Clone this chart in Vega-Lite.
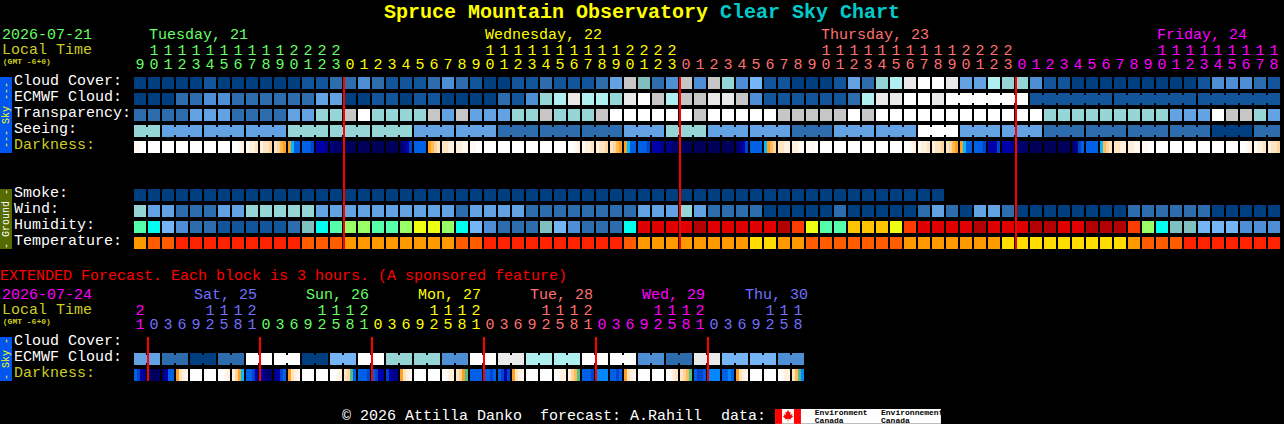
{"$schema":"https://vega.github.io/schema/vega-lite/v6.json","width":1284,"height":424,"padding":0,"autosize":{"type":"none"},"background":"#000000","config":{"view":{"stroke":null}},
"datasets":{
"cells":[
{"h":0,"r":0,"k":"0"},{"h":1,"r":0,"k":"0"},{"h":2,"r":0,"k":"0"},{"h":3,"r":0,"k":"0"},{"h":4,"r":0,"k":"0"},{"h":5,"r":0,"k":"1"},{"h":6,"r":0,"k":"0"},{"h":7,"r":0,"k":"0"},{"h":8,"r":0,"k":"0"},{"h":9,"r":0,"k":"0"},{"h":10,"r":0,"k":"0"},{"h":11,"r":0,"k":"0"},{"h":12,"r":0,"k":"1"},{"h":13,"r":0,"k":"1"},{"h":14,"r":0,"k":"2"},{"h":15,"r":0,"k":"2"},{"h":16,"r":0,"k":"3"},{"h":17,"r":0,"k":"2"},{"h":18,"r":0,"k":"1"},{"h":19,"r":0,"k":"1"},{"h":20,"r":0,"k":"1"},{"h":21,"r":0,"k":"2"},{"h":22,"r":0,"k":"3"},{"h":23,"r":0,"k":"2"},{"h":24,"r":0,"k":"1"},{"h":25,"r":0,"k":"0"},{"h":26,"r":0,"k":"0"},{"h":27,"r":0,"k":"1"},{"h":28,"r":0,"k":"1"},{"h":29,"r":0,"k":"2"},{"h":30,"r":0,"k":"1"},{"h":31,"r":0,"k":"1"},{"h":32,"r":0,"k":"1"},{"h":33,"r":0,"k":"2"},{"h":34,"r":0,"k":"4"},{"h":35,"r":0,"k":"8"},{"h":36,"r":0,"k":"t"},{"h":37,"r":0,"k":"2"},{"h":38,"r":0,"k":"3"},{"h":39,"r":0,"k":"8"},{"h":40,"r":0,"k":"3"},{"h":41,"r":0,"k":"8"},{"h":42,"r":0,"k":"6"},{"h":43,"r":0,"k":"3"},{"h":44,"r":0,"k":"5"},{"h":45,"r":0,"k":"1"},{"h":46,"r":0,"k":"1"},{"h":47,"r":0,"k":"0"},{"h":48,"r":0,"k":"0"},{"h":49,"r":0,"k":"0"},{"h":50,"r":0,"k":"1"},{"h":51,"r":0,"k":"4"},{"h":52,"r":0,"k":"2"},{"h":53,"r":0,"k":"6"},{"h":54,"r":0,"k":"7"},{"h":55,"r":0,"k":"9"},{"h":56,"r":0,"k":"W"},{"h":57,"r":0,"k":"W"},{"h":58,"r":0,"k":"9"},{"h":59,"r":0,"k":"4"},{"h":60,"r":0,"k":"4"},{"h":61,"r":0,"k":"7"},{"h":62,"r":0,"k":"6"},{"h":63,"r":0,"k":"6"},{"h":64,"r":0,"k":"3"},{"h":65,"r":0,"k":"1"},{"h":66,"r":0,"k":"1"},{"h":67,"r":0,"k":"0"},{"h":68,"r":0,"k":"0"},{"h":69,"r":0,"k":"0"},{"h":70,"r":0,"k":"0"},{"h":71,"r":0,"k":"0"},{"h":72,"r":0,"k":"0"},{"h":73,"r":0,"k":"0"},{"h":74,"r":0,"k":"0"},{"h":75,"r":0,"k":"0"},{"h":76,"r":0,"k":"1"},{"h":77,"r":0,"k":"3"},{"h":78,"r":0,"k":"3"},{"h":79,"r":0,"k":"3"},{"h":80,"r":0,"k":"2"},{"h":81,"r":0,"k":"1"},
{"h":0,"r":1,"k":"0"},{"h":1,"r":1,"k":"0"},{"h":2,"r":1,"k":"0"},{"h":3,"r":1,"k":"2"},{"h":4,"r":1,"k":"2"},{"h":5,"r":1,"k":"3"},{"h":6,"r":1,"k":"3"},{"h":7,"r":1,"k":"2"},{"h":8,"r":1,"k":"2"},{"h":9,"r":1,"k":"2"},{"h":10,"r":1,"k":"2"},{"h":11,"r":1,"k":"2"},{"h":12,"r":1,"k":"2"},{"h":13,"r":1,"k":"4"},{"h":14,"r":1,"k":"4"},{"h":15,"r":1,"k":"0"},{"h":16,"r":1,"k":"0"},{"h":17,"r":1,"k":"1"},{"h":18,"r":1,"k":"1"},{"h":19,"r":1,"k":"0"},{"h":20,"r":1,"k":"1"},{"h":21,"r":1,"k":"1"},{"h":22,"r":1,"k":"0"},{"h":23,"r":1,"k":"0"},{"h":24,"r":1,"k":"0"},{"h":25,"r":1,"k":"0"},{"h":26,"r":1,"k":"2"},{"h":27,"r":1,"k":"1"},{"h":28,"r":1,"k":"3"},{"h":29,"r":1,"k":"6"},{"h":30,"r":1,"k":"7"},{"h":31,"r":1,"k":"9"},{"h":32,"r":1,"k":"7"},{"h":33,"r":1,"k":"7"},{"h":34,"r":1,"k":"6"},{"h":35,"r":1,"k":"9"},{"h":36,"r":1,"k":"W"},{"h":37,"r":1,"k":"8"},{"h":38,"r":1,"k":"7"},{"h":39,"r":1,"k":"8"},{"h":40,"r":1,"k":"8"},{"h":41,"r":1,"k":"9"},{"h":42,"r":1,"k":"9"},{"h":43,"r":1,"k":"8"},{"h":44,"r":1,"k":"3"},{"h":45,"r":1,"k":"1"},{"h":46,"r":1,"k":"1"},{"h":47,"r":1,"k":"1"},{"h":48,"r":1,"k":"1"},{"h":49,"r":1,"k":"1"},{"h":50,"r":1,"k":"1"},{"h":51,"r":1,"k":"2"},{"h":52,"r":1,"k":"7"},{"h":53,"r":1,"k":"9"},{"h":54,"r":1,"k":"9"},{"h":55,"r":1,"k":"W"},{"h":56,"r":1,"k":"W"},{"h":57,"r":1,"k":"9"},{"h":58,"r":1,"k":"W"},{"h":59,"r":1,"k":"W"},{"h":60,"r":1,"k":"W"},{"h":61,"r":1,"k":"W"},{"h":62,"r":1,"k":"W"},{"h":63,"r":1,"k":"W"},{"h":64,"r":1,"k":"1"},{"h":65,"r":1,"k":"1"},{"h":66,"r":1,"k":"1"},{"h":67,"r":1,"k":"1"},{"h":68,"r":1,"k":"1"},{"h":69,"r":1,"k":"1"},{"h":70,"r":1,"k":"1"},{"h":71,"r":1,"k":"1"},{"h":72,"r":1,"k":"1"},{"h":73,"r":1,"k":"1"},{"h":74,"r":1,"k":"1"},{"h":75,"r":1,"k":"1"},{"h":76,"r":1,"k":"1"},{"h":77,"r":1,"k":"1"},{"h":78,"r":1,"k":"1"},{"h":79,"r":1,"k":"1"},{"h":80,"r":1,"k":"1"},{"h":81,"r":1,"k":"1"},
{"h":0,"r":2,"k":"2"},{"h":1,"r":2,"k":"2"},{"h":2,"r":2,"k":"2"},{"h":3,"r":2,"k":"2"},{"h":4,"r":2,"k":"4"},{"h":5,"r":2,"k":"4"},{"h":6,"r":2,"k":"4"},{"h":7,"r":2,"k":"2"},{"h":8,"r":2,"k":"2"},{"h":9,"r":2,"k":"2"},{"h":10,"r":2,"k":"2"},{"h":11,"r":2,"k":"4"},{"h":12,"r":2,"k":"4"},{"h":13,"r":2,"k":"6"},{"h":14,"r":2,"k":"6"},{"h":15,"r":2,"k":"8"},{"h":16,"r":2,"k":"W"},{"h":17,"r":2,"k":"6"},{"h":18,"r":2,"k":"6"},{"h":19,"r":2,"k":"6"},{"h":20,"r":2,"k":"6"},{"h":21,"r":2,"k":"8"},{"h":22,"r":2,"k":"4"},{"h":23,"r":2,"k":"8"},{"h":24,"r":2,"k":"4"},{"h":25,"r":2,"k":"4"},{"h":26,"r":2,"k":"4"},{"h":27,"r":2,"k":"6"},{"h":28,"r":2,"k":"6"},{"h":29,"r":2,"k":"8"},{"h":30,"r":2,"k":"6"},{"h":31,"r":2,"k":"6"},{"h":32,"r":2,"k":"6"},{"h":33,"r":2,"k":"8"},{"h":34,"r":2,"k":"W"},{"h":35,"r":2,"k":"W"},{"h":36,"r":2,"k":"W"},{"h":37,"r":2,"k":"W"},{"h":38,"r":2,"k":"W"},{"h":39,"r":2,"k":"W"},{"h":40,"r":2,"k":"8"},{"h":41,"r":2,"k":"W"},{"h":42,"r":2,"k":"W"},{"h":43,"r":2,"k":"W"},{"h":44,"r":2,"k":"W"},{"h":45,"r":2,"k":"W"},{"h":46,"r":2,"k":"8"},{"h":47,"r":2,"k":"8"},{"h":48,"r":2,"k":"8"},{"h":49,"r":2,"k":"8"},{"h":50,"r":2,"k":"8"},{"h":51,"r":2,"k":"W"},{"h":52,"r":2,"k":"8"},{"h":53,"r":2,"k":"W"},{"h":54,"r":2,"k":"W"},{"h":55,"r":2,"k":"W"},{"h":56,"r":2,"k":"W"},{"h":57,"r":2,"k":"W"},{"h":58,"r":2,"k":"W"},{"h":59,"r":2,"k":"W"},{"h":60,"r":2,"k":"W"},{"h":61,"r":2,"k":"W"},{"h":62,"r":2,"k":"W"},{"h":63,"r":2,"k":"W"},{"h":64,"r":2,"k":"W"},{"h":65,"r":2,"k":"6"},{"h":66,"r":2,"k":"6"},{"h":67,"r":2,"k":"6"},{"h":68,"r":2,"k":"6"},{"h":69,"r":2,"k":"6"},{"h":70,"r":2,"k":"6"},{"h":71,"r":2,"k":"6"},{"h":72,"r":2,"k":"6"},{"h":73,"r":2,"k":"6"},{"h":74,"r":2,"k":"4"},{"h":75,"r":2,"k":"4"},{"h":76,"r":2,"k":"4"},{"h":77,"r":2,"k":"W"},{"h":78,"r":2,"k":"8"},{"h":79,"r":2,"k":"8"},{"h":80,"r":2,"k":"6"},{"h":81,"r":2,"k":"4"},
{"h":0,"r":3,"k":"6"},{"h":1,"r":3,"k":"6"},{"h":2,"r":3,"k":"4"},{"h":3,"r":3,"k":"4"},{"h":4,"r":3,"k":"4"},{"h":5,"r":3,"k":"4"},{"h":6,"r":3,"k":"4"},{"h":7,"r":3,"k":"4"},{"h":8,"r":3,"k":"4"},{"h":9,"r":3,"k":"4"},{"h":10,"r":3,"k":"4"},{"h":11,"r":3,"k":"6"},{"h":12,"r":3,"k":"6"},{"h":13,"r":3,"k":"6"},{"h":14,"r":3,"k":"6"},{"h":15,"r":3,"k":"6"},{"h":16,"r":3,"k":"6"},{"h":17,"r":3,"k":"6"},{"h":18,"r":3,"k":"6"},{"h":19,"r":3,"k":"6"},{"h":20,"r":3,"k":"4"},{"h":21,"r":3,"k":"4"},{"h":22,"r":3,"k":"4"},{"h":23,"r":3,"k":"4"},{"h":24,"r":3,"k":"4"},{"h":25,"r":3,"k":"4"},{"h":26,"r":3,"k":"2"},{"h":27,"r":3,"k":"2"},{"h":28,"r":3,"k":"2"},{"h":29,"r":3,"k":"2"},{"h":30,"r":3,"k":"2"},{"h":31,"r":3,"k":"2"},{"h":32,"r":3,"k":"2"},{"h":33,"r":3,"k":"2"},{"h":34,"r":3,"k":"2"},{"h":35,"r":3,"k":"4"},{"h":36,"r":3,"k":"4"},{"h":37,"r":3,"k":"4"},{"h":38,"r":3,"k":"6"},{"h":39,"r":3,"k":"6"},{"h":40,"r":3,"k":"6"},{"h":41,"r":3,"k":"4"},{"h":42,"r":3,"k":"4"},{"h":43,"r":3,"k":"4"},{"h":44,"r":3,"k":"4"},{"h":45,"r":3,"k":"4"},{"h":46,"r":3,"k":"4"},{"h":47,"r":3,"k":"2"},{"h":48,"r":3,"k":"2"},{"h":49,"r":3,"k":"2"},{"h":50,"r":3,"k":"4"},{"h":51,"r":3,"k":"4"},{"h":52,"r":3,"k":"4"},{"h":53,"r":3,"k":"4"},{"h":54,"r":3,"k":"4"},{"h":55,"r":3,"k":"4"},{"h":56,"r":3,"k":"W"},{"h":57,"r":3,"k":"W"},{"h":58,"r":3,"k":"W"},{"h":59,"r":3,"k":"4"},{"h":60,"r":3,"k":"4"},{"h":61,"r":3,"k":"4"},{"h":62,"r":3,"k":"4"},{"h":63,"r":3,"k":"4"},{"h":64,"r":3,"k":"4"},{"h":65,"r":3,"k":"2"},{"h":66,"r":3,"k":"2"},{"h":67,"r":3,"k":"2"},{"h":68,"r":3,"k":"2"},{"h":69,"r":3,"k":"2"},{"h":70,"r":3,"k":"2"},{"h":71,"r":3,"k":"2"},{"h":72,"r":3,"k":"2"},{"h":73,"r":3,"k":"2"},{"h":74,"r":3,"k":"2"},{"h":75,"r":3,"k":"2"},{"h":76,"r":3,"k":"2"},{"h":77,"r":3,"k":"0"},{"h":78,"r":3,"k":"0"},{"h":79,"r":3,"k":"0"},{"h":80,"r":3,"k":"2"},{"h":81,"r":3,"k":"2"},
{"h":1,"r":4,"k":"W"},{"h":2,"r":4,"k":"W"},{"h":3,"r":4,"k":"W"},{"h":4,"r":4,"k":"W"},{"h":5,"r":4,"k":"W"},{"h":6,"r":4,"k":"W"},{"h":15,"r":4,"k":"g"},{"h":16,"r":4,"k":"g"},{"h":17,"r":4,"k":"g"},{"h":18,"r":4,"k":"g"},{"h":20,"r":4,"k":"a"},{"h":25,"r":4,"k":"W"},{"h":26,"r":4,"k":"W"},{"h":27,"r":4,"k":"W"},{"h":28,"r":4,"k":"W"},{"h":29,"r":4,"k":"W"},{"h":30,"r":4,"k":"W"},{"h":39,"r":4,"k":"g"},{"h":40,"r":4,"k":"g"},{"h":41,"r":4,"k":"g"},{"h":42,"r":4,"k":"g"},{"h":44,"r":4,"k":"a"},{"h":49,"r":4,"k":"W"},{"h":50,"r":4,"k":"W"},{"h":51,"r":4,"k":"W"},{"h":52,"r":4,"k":"W"},{"h":53,"r":4,"k":"W"},{"h":54,"r":4,"k":"W"},{"h":64,"r":4,"k":"g"},{"h":65,"r":4,"k":"g"},{"h":66,"r":4,"k":"g"},{"h":68,"r":4,"k":"a"},{"h":73,"r":4,"k":"W"},{"h":74,"r":4,"k":"W"},{"h":75,"r":4,"k":"W"},{"h":76,"r":4,"k":"W"},{"h":77,"r":4,"k":"W"},{"h":78,"r":4,"k":"W"},
{"h":0,"r":7,"k":"0"},{"h":1,"r":7,"k":"0"},{"h":2,"r":7,"k":"0"},{"h":3,"r":7,"k":"0"},{"h":4,"r":7,"k":"0"},{"h":5,"r":7,"k":"0"},{"h":6,"r":7,"k":"0"},{"h":7,"r":7,"k":"0"},{"h":8,"r":7,"k":"0"},{"h":9,"r":7,"k":"0"},{"h":10,"r":7,"k":"0"},{"h":11,"r":7,"k":"0"},{"h":12,"r":7,"k":"0"},{"h":13,"r":7,"k":"0"},{"h":14,"r":7,"k":"0"},{"h":15,"r":7,"k":"0"},{"h":16,"r":7,"k":"0"},{"h":17,"r":7,"k":"0"},{"h":18,"r":7,"k":"0"},{"h":19,"r":7,"k":"0"},{"h":20,"r":7,"k":"0"},{"h":21,"r":7,"k":"0"},{"h":22,"r":7,"k":"0"},{"h":23,"r":7,"k":"0"},{"h":24,"r":7,"k":"0"},{"h":25,"r":7,"k":"0"},{"h":26,"r":7,"k":"0"},{"h":27,"r":7,"k":"0"},{"h":28,"r":7,"k":"0"},{"h":29,"r":7,"k":"0"},{"h":30,"r":7,"k":"0"},{"h":31,"r":7,"k":"0"},{"h":32,"r":7,"k":"0"},{"h":33,"r":7,"k":"0"},{"h":34,"r":7,"k":"0"},{"h":35,"r":7,"k":"0"},{"h":36,"r":7,"k":"0"},{"h":37,"r":7,"k":"0"},{"h":38,"r":7,"k":"0"},{"h":39,"r":7,"k":"0"},{"h":40,"r":7,"k":"0"},{"h":41,"r":7,"k":"0"},{"h":42,"r":7,"k":"0"},{"h":43,"r":7,"k":"0"},{"h":44,"r":7,"k":"0"},{"h":45,"r":7,"k":"0"},{"h":46,"r":7,"k":"0"},{"h":47,"r":7,"k":"0"},{"h":48,"r":7,"k":"0"},{"h":49,"r":7,"k":"0"},{"h":50,"r":7,"k":"0"},{"h":51,"r":7,"k":"0"},{"h":52,"r":7,"k":"0"},{"h":53,"r":7,"k":"0"},{"h":54,"r":7,"k":"0"},{"h":55,"r":7,"k":"0"},{"h":56,"r":7,"k":"0"},{"h":57,"r":7,"k":"0"},
{"h":0,"r":8,"k":"6"},{"h":1,"r":8,"k":"4"},{"h":2,"r":8,"k":"4"},{"h":3,"r":8,"k":"2"},{"h":4,"r":8,"k":"2"},{"h":5,"r":8,"k":"2"},{"h":6,"r":8,"k":"4"},{"h":7,"r":8,"k":"4"},{"h":8,"r":8,"k":"6"},{"h":9,"r":8,"k":"6"},{"h":10,"r":8,"k":"6"},{"h":11,"r":8,"k":"6"},{"h":12,"r":8,"k":"6"},{"h":13,"r":8,"k":"4"},{"h":14,"r":8,"k":"4"},{"h":15,"r":8,"k":"4"},{"h":16,"r":8,"k":"4"},{"h":17,"r":8,"k":"4"},{"h":18,"r":8,"k":"4"},{"h":19,"r":8,"k":"4"},{"h":20,"r":8,"k":"4"},{"h":21,"r":8,"k":"4"},{"h":22,"r":8,"k":"4"},{"h":23,"r":8,"k":"2"},{"h":24,"r":8,"k":"4"},{"h":25,"r":8,"k":"4"},{"h":26,"r":8,"k":"4"},{"h":27,"r":8,"k":"4"},{"h":28,"r":8,"k":"2"},{"h":29,"r":8,"k":"2"},{"h":30,"r":8,"k":"2"},{"h":31,"r":8,"k":"2"},{"h":32,"r":8,"k":"2"},{"h":33,"r":8,"k":"2"},{"h":34,"r":8,"k":"2"},{"h":35,"r":8,"k":"2"},{"h":36,"r":8,"k":"4"},{"h":37,"r":8,"k":"4"},{"h":38,"r":8,"k":"4"},{"h":39,"r":8,"k":"6"},{"h":40,"r":8,"k":"4"},{"h":41,"r":8,"k":"2"},{"h":42,"r":8,"k":"2"},{"h":43,"r":8,"k":"2"},{"h":44,"r":8,"k":"2"},{"h":45,"r":8,"k":"0"},{"h":46,"r":8,"k":"0"},{"h":47,"r":8,"k":"0"},{"h":48,"r":8,"k":"0"},{"h":49,"r":8,"k":"0"},{"h":50,"r":8,"k":"2"},{"h":51,"r":8,"k":"0"},{"h":52,"r":8,"k":"0"},{"h":53,"r":8,"k":"0"},{"h":54,"r":8,"k":"0"},{"h":55,"r":8,"k":"0"},{"h":56,"r":8,"k":"2"},{"h":57,"r":8,"k":"4"},{"h":58,"r":8,"k":"2"},{"h":59,"r":8,"k":"0"},{"h":60,"r":8,"k":"4"},{"h":61,"r":8,"k":"4"},{"h":62,"r":8,"k":"2"},{"h":63,"r":8,"k":"0"},{"h":64,"r":8,"k":"0"},{"h":65,"r":8,"k":"0"},{"h":66,"r":8,"k":"0"},{"h":67,"r":8,"k":"0"},{"h":68,"r":8,"k":"0"},{"h":69,"r":8,"k":"0"},{"h":70,"r":8,"k":"0"},{"h":71,"r":8,"k":"2"},{"h":72,"r":8,"k":"2"},{"h":73,"r":8,"k":"2"},{"h":74,"r":8,"k":"2"},{"h":75,"r":8,"k":"2"},{"h":76,"r":8,"k":"2"},{"h":77,"r":8,"k":"0"},{"h":78,"r":8,"k":"0"},{"h":79,"r":8,"k":"0"},{"h":80,"r":8,"k":"0"},{"h":81,"r":8,"k":"0"},
{"h":0,"r":9,"k":"m"},{"h":1,"r":9,"k":"c"},{"h":2,"r":9,"k":"5"},{"h":3,"r":9,"k":"3"},{"h":4,"r":9,"k":"2"},{"h":5,"r":9,"k":"2"},{"h":6,"r":9,"k":"1"},{"h":7,"r":9,"k":"1"},{"h":8,"r":9,"k":"1"},{"h":9,"r":9,"k":"1"},{"h":10,"r":9,"k":"1"},{"h":11,"r":9,"k":"2"},{"h":12,"r":9,"k":"t"},{"h":13,"r":9,"k":"c"},{"h":14,"r":9,"k":"m"},{"h":15,"r":9,"k":"l"},{"h":16,"r":9,"k":"l"},{"h":17,"r":9,"k":"m"},{"h":18,"r":9,"k":"m"},{"h":19,"r":9,"k":"l"},{"h":20,"r":9,"k":"y"},{"h":21,"r":9,"k":"y"},{"h":22,"r":9,"k":"l"},{"h":23,"r":9,"k":"c"},{"h":24,"r":9,"k":"5"},{"h":25,"r":9,"k":"3"},{"h":26,"r":9,"k":"2"},{"h":27,"r":9,"k":"2"},{"h":28,"r":9,"k":"2"},{"h":29,"r":9,"k":"t"},{"h":30,"r":9,"k":"5"},{"h":31,"r":9,"k":"3"},{"h":32,"r":9,"k":"2"},{"h":33,"r":9,"k":"2"},{"h":34,"r":9,"k":"2"},{"h":35,"r":9,"k":"c"},{"h":36,"r":9,"k":"R"},{"h":37,"r":9,"k":"R"},{"h":38,"r":9,"k":"R"},{"h":39,"r":9,"k":"R"},{"h":40,"r":9,"k":"D"},{"h":41,"r":9,"k":"R"},{"h":42,"r":9,"k":"R"},{"h":43,"r":9,"k":"R"},{"h":44,"r":9,"k":"R"},{"h":45,"r":9,"k":"R"},{"h":46,"r":9,"k":"D"},{"h":47,"r":9,"k":"O"},{"h":48,"r":9,"k":"y"},{"h":49,"r":9,"k":"m"},{"h":50,"r":9,"k":"m"},{"h":51,"r":9,"k":"o"},{"h":52,"r":9,"k":"o"},{"h":53,"r":9,"k":"o"},{"h":54,"r":9,"k":"y"},{"h":55,"r":9,"k":"O"},{"h":56,"r":9,"k":"R"},{"h":57,"r":9,"k":"R"},{"h":58,"r":9,"k":"R"},{"h":59,"r":9,"k":"R"},{"h":60,"r":9,"k":"D"},{"h":61,"r":9,"k":"R"},{"h":62,"r":9,"k":"R"},{"h":63,"r":9,"k":"R"},{"h":64,"r":9,"k":"D"},{"h":65,"r":9,"k":"D"},{"h":66,"r":9,"k":"R"},{"h":67,"r":9,"k":"R"},{"h":68,"r":9,"k":"D"},{"h":69,"r":9,"k":"D"},{"h":70,"r":9,"k":"D"},{"h":71,"r":9,"k":"O"},{"h":72,"r":9,"k":"l"},{"h":73,"r":9,"k":"c"},{"h":74,"r":9,"k":"t"},{"h":75,"r":9,"k":"t"},{"h":76,"r":9,"k":"5"},{"h":77,"r":9,"k":"5"},{"h":78,"r":9,"k":"5"},{"h":79,"r":9,"k":"3"},{"h":80,"r":9,"k":"3"},{"h":81,"r":9,"k":"3"},
{"h":0,"r":10,"k":"A"},{"h":1,"r":10,"k":"B"},{"h":2,"r":10,"k":"B"},{"h":3,"r":10,"k":"C"},{"h":4,"r":10,"k":"C"},{"h":5,"r":10,"k":"C"},{"h":6,"r":10,"k":"C"},{"h":7,"r":10,"k":"C"},{"h":8,"r":10,"k":"C"},{"h":9,"r":10,"k":"C"},{"h":10,"r":10,"k":"C"},{"h":11,"r":10,"k":"C"},{"h":12,"r":10,"k":"B"},{"h":13,"r":10,"k":"B"},{"h":14,"r":10,"k":"B"},{"h":15,"r":10,"k":"A"},{"h":16,"r":10,"k":"A"},{"h":17,"r":10,"k":"A"},{"h":18,"r":10,"k":"A"},{"h":19,"r":10,"k":"A"},{"h":20,"r":10,"k":"A"},{"h":21,"r":10,"k":"A"},{"h":22,"r":10,"k":"A"},{"h":23,"r":10,"k":"B"},{"h":24,"r":10,"k":"B"},{"h":25,"r":10,"k":"C"},{"h":26,"r":10,"k":"C"},{"h":27,"r":10,"k":"C"},{"h":28,"r":10,"k":"C"},{"h":29,"r":10,"k":"C"},{"h":30,"r":10,"k":"C"},{"h":31,"r":10,"k":"C"},{"h":32,"r":10,"k":"C"},{"h":33,"r":10,"k":"C"},{"h":34,"r":10,"k":"C"},{"h":35,"r":10,"k":"B"},{"h":36,"r":10,"k":"A"},{"h":37,"r":10,"k":"A"},{"h":38,"r":10,"k":"A"},{"h":39,"r":10,"k":"A"},{"h":40,"r":10,"k":"A"},{"h":41,"r":10,"k":"A"},{"h":42,"r":10,"k":"A"},{"h":43,"r":10,"k":"A"},{"h":44,"r":10,"k":"E"},{"h":45,"r":10,"k":"E"},{"h":46,"r":10,"k":"A"},{"h":47,"r":10,"k":"A"},{"h":48,"r":10,"k":"B"},{"h":49,"r":10,"k":"B"},{"h":50,"r":10,"k":"B"},{"h":51,"r":10,"k":"B"},{"h":52,"r":10,"k":"B"},{"h":53,"r":10,"k":"B"},{"h":54,"r":10,"k":"B"},{"h":55,"r":10,"k":"A"},{"h":56,"r":10,"k":"A"},{"h":57,"r":10,"k":"A"},{"h":58,"r":10,"k":"A"},{"h":59,"r":10,"k":"A"},{"h":60,"r":10,"k":"A"},{"h":61,"r":10,"k":"A"},{"h":62,"r":10,"k":"E"},{"h":63,"r":10,"k":"E"},{"h":64,"r":10,"k":"E"},{"h":65,"r":10,"k":"E"},{"h":66,"r":10,"k":"E"},{"h":67,"r":10,"k":"E"},{"h":68,"r":10,"k":"E"},{"h":69,"r":10,"k":"E"},{"h":70,"r":10,"k":"E"},{"h":71,"r":10,"k":"A"},{"h":72,"r":10,"k":"B"},{"h":73,"r":10,"k":"B"},{"h":74,"r":10,"k":"B"},{"h":75,"r":10,"k":"C"},{"h":76,"r":10,"k":"C"},{"h":77,"r":10,"k":"C"},{"h":78,"r":10,"k":"C"},{"h":79,"r":10,"k":"C"},{"h":80,"r":10,"k":"C"},{"h":81,"r":10,"k":"C"},
{"h":0,"r":17.25,"k":"4"},{"h":1,"r":17.25,"k":"4"},{"h":2,"r":17.25,"k":"2"},{"h":3,"r":17.25,"k":"2"},{"h":4,"r":17.25,"k":"0"},{"h":5,"r":17.25,"k":"0"},{"h":6,"r":17.25,"k":"2"},{"h":7,"r":17.25,"k":"2"},{"h":8,"r":17.25,"k":"W"},{"h":9,"r":17.25,"k":"W"},{"h":10,"r":17.25,"k":"W"},{"h":11,"r":17.25,"k":"W"},{"h":12,"r":17.25,"k":"0"},{"h":13,"r":17.25,"k":"0"},{"h":14,"r":17.25,"k":"5"},{"h":15,"r":17.25,"k":"5"},{"h":16,"r":17.25,"k":"W"},{"h":17,"r":17.25,"k":"W"},{"h":18,"r":17.25,"k":"6"},{"h":19,"r":17.25,"k":"6"},{"h":20,"r":17.25,"k":"6"},{"h":21,"r":17.25,"k":"6"},{"h":22,"r":17.25,"k":"3"},{"h":23,"r":17.25,"k":"3"},{"h":24,"r":17.25,"k":"W"},{"h":25,"r":17.25,"k":"W"},{"h":26,"r":17.25,"k":"9"},{"h":27,"r":17.25,"k":"9"},{"h":28,"r":17.25,"k":"7"},{"h":29,"r":17.25,"k":"7"},{"h":30,"r":17.25,"k":"7"},{"h":31,"r":17.25,"k":"7"},{"h":32,"r":17.25,"k":"W"},{"h":33,"r":17.25,"k":"W"},{"h":34,"r":17.25,"k":"W"},{"h":35,"r":17.25,"k":"W"},{"h":36,"r":17.25,"k":"3"},{"h":37,"r":17.25,"k":"3"},{"h":38,"r":17.25,"k":"2"},{"h":39,"r":17.25,"k":"2"},{"h":40,"r":17.25,"k":"9"},{"h":41,"r":17.25,"k":"9"},{"h":42,"r":17.25,"k":"5"},{"h":43,"r":17.25,"k":"5"},{"h":44,"r":17.25,"k":"5"},{"h":45,"r":17.25,"k":"5"},{"h":46,"r":17.25,"k":"3"},{"h":47,"r":17.25,"k":"3"},
{"h":4,"r":18.25,"k":"W"},{"h":5,"r":18.25,"k":"W"},{"h":12,"r":18.25,"k":"W"},{"h":13,"r":18.25,"k":"W"},{"h":20,"r":18.25,"k":"W"},{"h":21,"r":18.25,"k":"W"},{"h":24,"r":18.25,"k":"a"},{"h":28,"r":18.25,"k":"W"},{"h":29,"r":18.25,"k":"W"},{"h":33,"r":18.25,"k":"h"},{"h":36,"r":18.25,"k":"W"},{"h":37,"r":18.25,"k":"W"},{"h":41,"r":18.25,"k":"h"},{"h":44,"r":18.25,"k":"W"},{"h":45,"r":18.25,"k":"W"}
],
"stripes":[
{"h":-0.32,"r":4,"k":"p"},{"h":-0.11,"r":4,"k":"p"},{"h":0.11,"r":4,"k":"W"},{"h":0.32,"r":4,"k":"W"},
{"h":6.68,"r":4,"k":"W"},{"h":6.89,"r":4,"k":"W"},{"h":7.11,"r":4,"k":"p"},{"h":7.32,"r":4,"k":"q"},
{"h":7.68,"r":4,"k":"p"},{"h":7.89,"r":4,"k":"q"},{"h":8.11,"r":4,"k":"q"},{"h":8.32,"r":4,"k":"s"},
{"h":8.68,"r":4,"k":"q"},{"h":8.89,"r":4,"k":"s"},{"h":9.11,"r":4,"k":"s"},{"h":9.32,"r":4,"k":"u"},
{"h":9.68,"r":4,"k":"s"},{"h":9.89,"r":4,"k":"u"},{"h":10.11,"r":4,"k":"v"},{"h":10.32,"r":4,"k":"w"},
{"h":10.68,"r":4,"k":"w"},{"h":10.89,"r":4,"k":"x"},{"h":11.11,"r":4,"k":"a"},{"h":11.32,"r":4,"k":"a"},
{"h":11.68,"r":4,"k":"a"},{"h":11.89,"r":4,"k":"a"},{"h":12.11,"r":4,"k":"a"},{"h":12.32,"r":4,"k":"b"},
{"h":12.68,"r":4,"k":"d"},{"h":12.89,"r":4,"k":"d"},{"h":13.11,"r":4,"k":"d"},{"h":13.32,"r":4,"k":"e"},
{"h":13.68,"r":4,"k":"e"},{"h":13.89,"r":4,"k":"f"},{"h":14.11,"r":4,"k":"f"},{"h":14.32,"r":4,"k":"f"},
{"h":18.68,"r":4,"k":"f"},{"h":18.89,"r":4,"k":"e"},{"h":19.11,"r":4,"k":"d"},{"h":19.32,"r":4,"k":"b"},
{"h":20.68,"r":4,"k":"w"},{"h":20.89,"r":4,"k":"v"},{"h":21.11,"r":4,"k":"u"},{"h":21.32,"r":4,"k":"s"},
{"h":21.68,"r":4,"k":"s"},{"h":21.89,"r":4,"k":"s"},{"h":22.11,"r":4,"k":"q"},{"h":22.32,"r":4,"k":"q"},
{"h":22.68,"r":4,"k":"q"},{"h":22.89,"r":4,"k":"q"},{"h":23.11,"r":4,"k":"p"},{"h":23.32,"r":4,"k":"p"},
{"h":23.68,"r":4,"k":"p"},{"h":23.89,"r":4,"k":"p"},{"h":24.11,"r":4,"k":"W"},{"h":24.32,"r":4,"k":"W"},
{"h":30.68,"r":4,"k":"W"},{"h":30.89,"r":4,"k":"W"},{"h":31.11,"r":4,"k":"p"},{"h":31.32,"r":4,"k":"q"},
{"h":31.68,"r":4,"k":"p"},{"h":31.89,"r":4,"k":"q"},{"h":32.11,"r":4,"k":"q"},{"h":32.32,"r":4,"k":"s"},
{"h":32.68,"r":4,"k":"q"},{"h":32.89,"r":4,"k":"s"},{"h":33.11,"r":4,"k":"s"},{"h":33.32,"r":4,"k":"u"},
{"h":33.68,"r":4,"k":"s"},{"h":33.89,"r":4,"k":"u"},{"h":34.11,"r":4,"k":"v"},{"h":34.32,"r":4,"k":"w"},
{"h":34.68,"r":4,"k":"w"},{"h":34.89,"r":4,"k":"x"},{"h":35.11,"r":4,"k":"a"},{"h":35.32,"r":4,"k":"a"},
{"h":35.68,"r":4,"k":"a"},{"h":35.89,"r":4,"k":"a"},{"h":36.11,"r":4,"k":"a"},{"h":36.32,"r":4,"k":"b"},
{"h":36.68,"r":4,"k":"d"},{"h":36.89,"r":4,"k":"d"},{"h":37.11,"r":4,"k":"d"},{"h":37.32,"r":4,"k":"e"},
{"h":37.68,"r":4,"k":"e"},{"h":37.89,"r":4,"k":"e"},{"h":38.11,"r":4,"k":"f"},{"h":38.32,"r":4,"k":"f"},
{"h":42.68,"r":4,"k":"f"},{"h":42.89,"r":4,"k":"e"},{"h":43.11,"r":4,"k":"d"},{"h":43.32,"r":4,"k":"b"},
{"h":44.68,"r":4,"k":"x"},{"h":44.89,"r":4,"k":"w"},{"h":45.11,"r":4,"k":"v"},{"h":45.32,"r":4,"k":"u"},
{"h":45.68,"r":4,"k":"s"},{"h":45.89,"r":4,"k":"s"},{"h":46.11,"r":4,"k":"q"},{"h":46.32,"r":4,"k":"q"},
{"h":46.68,"r":4,"k":"q"},{"h":46.89,"r":4,"k":"q"},{"h":47.11,"r":4,"k":"p"},{"h":47.32,"r":4,"k":"p"},
{"h":47.68,"r":4,"k":"p"},{"h":47.89,"r":4,"k":"p"},{"h":48.11,"r":4,"k":"p"},{"h":48.32,"r":4,"k":"W"},
{"h":54.68,"r":4,"k":"W"},{"h":54.89,"r":4,"k":"W"},{"h":55.11,"r":4,"k":"p"},{"h":55.32,"r":4,"k":"q"},
{"h":55.68,"r":4,"k":"p"},{"h":55.89,"r":4,"k":"q"},{"h":56.11,"r":4,"k":"q"},{"h":56.32,"r":4,"k":"s"},
{"h":56.68,"r":4,"k":"q"},{"h":56.89,"r":4,"k":"s"},{"h":57.11,"r":4,"k":"s"},{"h":57.32,"r":4,"k":"u"},
{"h":57.68,"r":4,"k":"s"},{"h":57.89,"r":4,"k":"u"},{"h":58.11,"r":4,"k":"v"},{"h":58.32,"r":4,"k":"w"},
{"h":58.68,"r":4,"k":"w"},{"h":58.89,"r":4,"k":"x"},{"h":59.11,"r":4,"k":"a"},{"h":59.32,"r":4,"k":"a"},
{"h":59.68,"r":4,"k":"a"},{"h":59.89,"r":4,"k":"a"},{"h":60.11,"r":4,"k":"a"},{"h":60.32,"r":4,"k":"b"},
{"h":60.68,"r":4,"k":"d"},{"h":60.89,"r":4,"k":"d"},{"h":61.11,"r":4,"k":"d"},{"h":61.32,"r":4,"k":"b"},
{"h":61.68,"r":4,"k":"d"},{"h":61.89,"r":4,"k":"d"},{"h":62.11,"r":4,"k":"d"},{"h":62.32,"r":4,"k":"e"},
{"h":62.68,"r":4,"k":"e"},{"h":62.89,"r":4,"k":"f"},{"h":63.11,"r":4,"k":"f"},{"h":63.32,"r":4,"k":"f"},
{"h":66.68,"r":4,"k":"f"},{"h":66.89,"r":4,"k":"e"},{"h":67.11,"r":4,"k":"b"},{"h":67.32,"r":4,"k":"a"},
{"h":68.68,"r":4,"k":"x"},{"h":68.89,"r":4,"k":"v"},{"h":69.11,"r":4,"k":"u"},{"h":69.32,"r":4,"k":"s"},
{"h":69.68,"r":4,"k":"s"},{"h":69.89,"r":4,"k":"s"},{"h":70.11,"r":4,"k":"q"},{"h":70.32,"r":4,"k":"q"},
{"h":70.68,"r":4,"k":"q"},{"h":70.89,"r":4,"k":"q"},{"h":71.11,"r":4,"k":"p"},{"h":71.32,"r":4,"k":"p"},
{"h":71.68,"r":4,"k":"p"},{"h":71.89,"r":4,"k":"p"},{"h":72.11,"r":4,"k":"W"},{"h":72.32,"r":4,"k":"W"},
{"h":78.68,"r":4,"k":"W"},{"h":78.89,"r":4,"k":"W"},{"h":79.11,"r":4,"k":"p"},{"h":79.32,"r":4,"k":"q"},
{"h":79.68,"r":4,"k":"p"},{"h":79.89,"r":4,"k":"q"},{"h":80.11,"r":4,"k":"q"},{"h":80.32,"r":4,"k":"s"},
{"h":80.68,"r":4,"k":"q"},{"h":80.89,"r":4,"k":"s"},{"h":81.11,"r":4,"k":"s"},{"h":81.32,"r":4,"k":"u"},
{"h":-0.32,"r":18.25,"k":"a"},{"h":-0.11,"r":18.25,"k":"b"},{"h":0.11,"r":18.25,"k":"d"},{"h":0.32,"r":18.25,"k":"e"},
{"h":0.68,"r":18.25,"k":"f"},{"h":0.89,"r":18.25,"k":"g"},{"h":1.11,"r":18.25,"k":"g"},{"h":1.32,"r":18.25,"k":"f"},
{"h":1.68,"r":18.25,"k":"f"},{"h":1.89,"r":18.25,"k":"d"},{"h":2.11,"r":18.25,"k":"a"},{"h":2.32,"r":18.25,"k":"a"},
{"h":2.68,"r":18.25,"k":"w"},{"h":2.89,"r":18.25,"k":"s"},{"h":3.11,"r":18.25,"k":"q"},{"h":3.32,"r":18.25,"k":"p"},
{"h":5.68,"r":18.25,"k":"W"},{"h":5.89,"r":18.25,"k":"W"},{"h":6.11,"r":18.25,"k":"p"},{"h":6.32,"r":18.25,"k":"q"},
{"h":6.68,"r":18.25,"k":"q"},{"h":6.89,"r":18.25,"k":"u"},{"h":7.11,"r":18.25,"k":"w"},{"h":7.32,"r":18.25,"k":"x"},
{"h":7.68,"r":18.25,"k":"a"},{"h":7.89,"r":18.25,"k":"a"},{"h":8.11,"r":18.25,"k":"b"},{"h":8.32,"r":18.25,"k":"d"},
{"h":8.68,"r":18.25,"k":"d"},{"h":8.89,"r":18.25,"k":"e"},{"h":9.11,"r":18.25,"k":"f"},{"h":9.32,"r":18.25,"k":"f"},
{"h":9.68,"r":18.25,"k":"e"},{"h":9.89,"r":18.25,"k":"d"},{"h":10.11,"r":18.25,"k":"b"},{"h":10.32,"r":18.25,"k":"a"},
{"h":10.68,"r":18.25,"k":"w"},{"h":10.89,"r":18.25,"k":"s"},{"h":11.11,"r":18.25,"k":"q"},{"h":11.32,"r":18.25,"k":"p"},
{"h":13.68,"r":18.25,"k":"W"},{"h":13.89,"r":18.25,"k":"W"},{"h":14.11,"r":18.25,"k":"p"},{"h":14.32,"r":18.25,"k":"q"},
{"h":14.68,"r":18.25,"k":"s"},{"h":14.89,"r":18.25,"k":"u"},{"h":15.11,"r":18.25,"k":"i"},{"h":15.32,"r":18.25,"k":"a"},
{"h":15.68,"r":18.25,"k":"a"},{"h":15.89,"r":18.25,"k":"a"},{"h":16.11,"r":18.25,"k":"a"},{"h":16.32,"r":18.25,"k":"b"},
{"h":16.68,"r":18.25,"k":"a"},{"h":16.89,"r":18.25,"k":"b"},{"h":17.11,"r":18.25,"k":"d"},{"h":17.32,"r":18.25,"k":"d"},
{"h":17.68,"r":18.25,"k":"b"},{"h":17.89,"r":18.25,"k":"d"},{"h":18.11,"r":18.25,"k":"e"},{"h":18.32,"r":18.25,"k":"e"},
{"h":18.68,"r":18.25,"k":"w"},{"h":18.89,"r":18.25,"k":"s"},{"h":19.11,"r":18.25,"k":"q"},{"h":19.32,"r":18.25,"k":"p"},
{"h":21.68,"r":18.25,"k":"W"},{"h":21.89,"r":18.25,"k":"p"},{"h":22.11,"r":18.25,"k":"q"},{"h":22.32,"r":18.25,"k":"q"},
{"h":22.68,"r":18.25,"k":"s"},{"h":22.89,"r":18.25,"k":"u"},{"h":23.11,"r":18.25,"k":"w"},{"h":23.32,"r":18.25,"k":"i"},
{"h":24.68,"r":18.25,"k":"a"},{"h":24.89,"r":18.25,"k":"a"},{"h":25.11,"r":18.25,"k":"b"},{"h":25.32,"r":18.25,"k":"a"},
{"h":25.68,"r":18.25,"k":"a"},{"h":25.89,"r":18.25,"k":"b"},{"h":26.11,"r":18.25,"k":"d"},{"h":26.32,"r":18.25,"k":"b"},
{"h":26.68,"r":18.25,"k":"w"},{"h":26.89,"r":18.25,"k":"s"},{"h":27.11,"r":18.25,"k":"q"},{"h":27.32,"r":18.25,"k":"p"},
{"h":29.68,"r":18.25,"k":"W"},{"h":29.89,"r":18.25,"k":"p"},{"h":30.11,"r":18.25,"k":"q"},{"h":30.32,"r":18.25,"k":"q"},
{"h":30.68,"r":18.25,"k":"q"},{"h":30.89,"r":18.25,"k":"u"},{"h":31.11,"r":18.25,"k":"v"},{"h":31.32,"r":18.25,"k":"i"},
{"h":31.68,"r":18.25,"k":"a"},{"h":31.89,"r":18.25,"k":"a"},{"h":32.11,"r":18.25,"k":"a"},{"h":32.32,"r":18.25,"k":"b"},
{"h":33.68,"r":18.25,"k":"a"},{"h":33.89,"r":18.25,"k":"a"},{"h":34.11,"r":18.25,"k":"b"},{"h":34.32,"r":18.25,"k":"a"},
{"h":34.68,"r":18.25,"k":"w"},{"h":34.89,"r":18.25,"k":"s"},{"h":35.11,"r":18.25,"k":"q"},{"h":35.32,"r":18.25,"k":"p"},
{"h":37.68,"r":18.25,"k":"W"},{"h":37.89,"r":18.25,"k":"p"},{"h":38.11,"r":18.25,"k":"q"},{"h":38.32,"r":18.25,"k":"s"},
{"h":38.68,"r":18.25,"k":"s"},{"h":38.89,"r":18.25,"k":"u"},{"h":39.11,"r":18.25,"k":"v"},{"h":39.32,"r":18.25,"k":"i"},
{"h":39.68,"r":18.25,"k":"a"},{"h":39.89,"r":18.25,"k":"b"},{"h":40.11,"r":18.25,"k":"b"},{"h":40.32,"r":18.25,"k":"a"},
{"h":41.68,"r":18.25,"k":"a"},{"h":41.89,"r":18.25,"k":"a"},{"h":42.11,"r":18.25,"k":"h"},{"h":42.32,"r":18.25,"k":"a"},
{"h":42.68,"r":18.25,"k":"w"},{"h":42.89,"r":18.25,"k":"s"},{"h":43.11,"r":18.25,"k":"q"},{"h":43.32,"r":18.25,"k":"p"},
{"h":45.68,"r":18.25,"k":"W"},{"h":45.89,"r":18.25,"k":"p"},{"h":46.11,"r":18.25,"k":"q"},{"h":46.32,"r":18.25,"k":"q"},
{"h":46.68,"r":18.25,"k":"s"},{"h":46.89,"r":18.25,"k":"v"},{"h":47.11,"r":18.25,"k":"i"},{"h":47.32,"r":18.25,"k":"h"}
],
"links":[
{"h":0.5,"r":3,"k":"6"},{"h":2.5,"r":3,"k":"4"},{"h":3.5,"r":3,"k":"4"},{"h":5.5,"r":3,"k":"4"},{"h":6.5,"r":3,"k":"4"},{"h":8.5,"r":3,"k":"4"},{"h":9.5,"r":3,"k":"4"},{"h":11.5,"r":3,"k":"6"},{"h":12.5,"r":3,"k":"6"},{"h":14.5,"r":3,"k":"6"},{"h":15.5,"r":3,"k":"6"},{"h":17.5,"r":3,"k":"6"},{"h":18.5,"r":3,"k":"6"},{"h":20.5,"r":3,"k":"4"},{"h":21.5,"r":3,"k":"4"},{"h":23.5,"r":3,"k":"4"},{"h":24.5,"r":3,"k":"4"},{"h":26.5,"r":3,"k":"2"},{"h":27.5,"r":3,"k":"2"},{"h":29.5,"r":3,"k":"2"},{"h":30.5,"r":3,"k":"2"},{"h":32.5,"r":3,"k":"2"},{"h":33.5,"r":3,"k":"2"},{"h":35.5,"r":3,"k":"4"},{"h":36.5,"r":3,"k":"4"},{"h":38.5,"r":3,"k":"6"},{"h":39.5,"r":3,"k":"6"},{"h":41.5,"r":3,"k":"4"},{"h":42.5,"r":3,"k":"4"},{"h":44.5,"r":3,"k":"4"},{"h":45.5,"r":3,"k":"4"},{"h":47.5,"r":3,"k":"2"},{"h":48.5,"r":3,"k":"2"},{"h":50.5,"r":3,"k":"4"},{"h":51.5,"r":3,"k":"4"},{"h":53.5,"r":3,"k":"4"},{"h":54.5,"r":3,"k":"4"},{"h":56.5,"r":3,"k":"W"},{"h":57.5,"r":3,"k":"W"},{"h":59.5,"r":3,"k":"4"},{"h":60.5,"r":3,"k":"4"},{"h":62.5,"r":3,"k":"4"},{"h":63.5,"r":3,"k":"4"},{"h":65.5,"r":3,"k":"2"},{"h":66.5,"r":3,"k":"2"},{"h":68.5,"r":3,"k":"2"},{"h":69.5,"r":3,"k":"2"},{"h":71.5,"r":3,"k":"2"},{"h":72.5,"r":3,"k":"2"},{"h":74.5,"r":3,"k":"2"},{"h":75.5,"r":3,"k":"2"},{"h":77.5,"r":3,"k":"0"},{"h":78.5,"r":3,"k":"0"},{"h":80.5,"r":3,"k":"2"},
{"h":58.5,"r":1,"k":"W"},{"h":59.5,"r":1,"k":"W"},{"h":60.5,"r":1,"k":"W"},{"h":61.5,"r":1,"k":"W"},{"h":62.5,"r":1,"k":"W"},{"h":64.5,"r":1,"k":"1"},{"h":65.5,"r":1,"k":"1"},{"h":66.5,"r":1,"k":"1"},{"h":67.5,"r":1,"k":"1"},{"h":68.5,"r":1,"k":"1"},{"h":70.5,"r":1,"k":"1"},{"h":71.5,"r":1,"k":"1"},{"h":72.5,"r":1,"k":"1"},{"h":73.5,"r":1,"k":"1"},{"h":74.5,"r":1,"k":"1"},{"h":76.5,"r":1,"k":"1"},{"h":77.5,"r":1,"k":"1"},{"h":78.5,"r":1,"k":"1"},{"h":79.5,"r":1,"k":"1"},{"h":80.5,"r":1,"k":"1"},
{"h":0.5,"r":17.25,"k":"4"},{"h":2.5,"r":17.25,"k":"2"},{"h":4.5,"r":17.25,"k":"0"},{"h":6.5,"r":17.25,"k":"2"},{"h":8.5,"r":17.25,"k":"W"},{"h":10.5,"r":17.25,"k":"W"},{"h":12.5,"r":17.25,"k":"0"},{"h":14.5,"r":17.25,"k":"5"},{"h":16.5,"r":17.25,"k":"W"},{"h":18.5,"r":17.25,"k":"6"},{"h":20.5,"r":17.25,"k":"6"},{"h":22.5,"r":17.25,"k":"3"},{"h":24.5,"r":17.25,"k":"W"},{"h":26.5,"r":17.25,"k":"9"},{"h":28.5,"r":17.25,"k":"7"},{"h":30.5,"r":17.25,"k":"7"},{"h":32.5,"r":17.25,"k":"W"},{"h":34.5,"r":17.25,"k":"W"},{"h":36.5,"r":17.25,"k":"3"},{"h":38.5,"r":17.25,"k":"2"},{"h":40.5,"r":17.25,"k":"9"},{"h":42.5,"r":17.25,"k":"5"},{"h":44.5,"r":17.25,"k":"5"},{"h":46.5,"r":17.25,"k":"3"}
],
"now":[
{"h":14.57,"r":-0.375,"r2":10.375,"k":"X"},{"h":38.57,"r":-0.375,"r2":10.375,"k":"X"},{"h":62.57,"r":-0.375,"r2":10.375,"k":"X"},
{"h":0.57,"r":15.875,"r2":18.625,"k":"X"},{"h":8.57,"r":15.875,"r2":18.625,"k":"X"},{"h":16.57,"r":15.875,"r2":18.625,"k":"X"},{"h":24.57,"r":15.875,"r2":18.625,"k":"X"},{"h":32.57,"r":15.875,"r2":18.625,"k":"X"},{"h":40.57,"r":15.875,"r2":18.625,"k":"X"}
],
"boxes":[
{"h":-10,"h2":-9.143,"r":-0.375,"r2":4.375,"k":"J"},{"h":-10,"h2":-9.143,"r":6.625,"r2":10.375,"k":"N"},{"h":-10,"h2":-9.143,"r":15.875,"r2":18.625,"k":"J"},
{"h":45.36,"h2":57.21,"r":20.375,"r2":21.3,"k":"W"},{"h":45.36,"h2":45.86,"r":20.375,"r2":21.3,"k":"X"},{"h":46.71,"h2":47.21,"r":20.375,"r2":21.3,"k":"X"}
],
"labels":[
{"h":-9,"r":-0.1875,"t":"Cloud Cover:","k":"W"},{"h":-9,"r":0.8125,"t":"ECMWF Cloud:","k":"W"},{"h":-9,"r":1.8125,"t":"Transparency:","k":"W"},{"h":-9,"r":2.8125,"t":"Seeing:","k":"W"},{"h":-9,"r":3.8125,"t":"Darkness:","k":"L"},
{"h":-9,"r":6.8125,"t":"Smoke:","k":"W"},{"h":-9,"r":7.8125,"t":"Wind:","k":"W"},{"h":-9,"r":8.8125,"t":"Humidity:","k":"W"},{"h":-9,"r":9.8125,"t":"Temperature:","k":"W"},
{"h":-9,"r":16.0625,"t":"Cloud Cover:","k":"W"},{"h":-9,"r":17.0625,"t":"ECMWF Cloud:","k":"W"},{"h":-9,"r":18.0625,"t":"Darkness:","k":"L"},
{"h":-9.857,"r":-3.06,"t":"2026-07-21","k":"G"},{"h":-9.857,"r":-2.12,"t":"Local Time","k":"L"},
{"h":0.643,"r":-3.06,"t":"Tuesday, 21","k":"G"},{"h":24.643,"r":-3.06,"t":"Wednesday, 22","k":"Y"},{"h":48.643,"r":-3.06,"t":"Thursday, 23","k":"S"},{"h":72.643,"r":-3.06,"t":"Friday, 24","k":"M"},
{"h":-10,"r":12,"t":"EXTENDED Forecast. Each block is 3 hours. (A sponsored feature)","k":"X"},
{"h":-9.857,"r":13.19,"t":"2026-07-24","k":"M"},{"h":-9.857,"r":14.13,"t":"Local Time","k":"L"},
{"h":3.857,"r":13.19,"t":"Sat, 25","k":"P"},{"h":11.857,"r":13.19,"t":"Sun, 26","k":"G"},{"h":19.857,"r":13.19,"t":"Mon, 27","k":"Y"},{"h":27.857,"r":13.19,"t":"Tue, 28","k":"S"},{"h":35.857,"r":13.19,"t":"Wed, 29","k":"M"},{"h":43.214,"r":13.19,"t":"Thu, 30","k":"P"},
{"h":14.43,"r":20.75,"t":"© 2026 Attilla Danko","k":"W"},{"h":28.57,"r":20.75,"t":"forecast: A.Rahill","k":"W"},{"h":41.5,"r":20.75,"t":"data:","k":"W"}
],
"title":[{"h":17.43,"r":-4.44,"t":"Spruce Mountain Observatory","k":"Y"},{"h":41.43,"r":-4.44,"t":"Clear Sky Chart","k":"K"}],
"small":[{"h":-9.8,"r":-1.31,"t":"(GMT -6+0)","k":"L"},{"h":-9.8,"r":14.94,"t":"(GMT -6+0)","k":"L"},{"h":48.2,"r":20.6,"t":"Environment","k":"z"},{"h":48.2,"r":21.1,"t":"Canada","k":"z"},{"h":52.93,"r":20.6,"t":"Environnement","k":"z"},{"h":52.93,"r":21.1,"t":"Canada","k":"z"}],
"side":[{"h":-9.571,"r":2,"t":"--- Sky ---","k":"Y"},{"h":-9.571,"r":8.5,"t":"- Ground -","k":"W"},{"h":-9.571,"r":17.25,"t":"- Sky -","k":"Y"}],
"leaf":[{"h":46.29,"r":20.8,"k":"X"}],
"hours":[
{"h":0,"r":-1.16,"k":"G","u":"9"},{"h":1,"r":-1.16,"q":-2.09,"k":"G","u":"0","t":"1"},{"h":2,"r":-1.16,"q":-2.09,"k":"G","u":"1","t":"1"},{"h":3,"r":-1.16,"q":-2.09,"k":"G","u":"2","t":"1"},{"h":4,"r":-1.16,"q":-2.09,"k":"G","u":"3","t":"1"},{"h":5,"r":-1.16,"q":-2.09,"k":"G","u":"4","t":"1"},{"h":6,"r":-1.16,"q":-2.09,"k":"G","u":"5","t":"1"},{"h":7,"r":-1.16,"q":-2.09,"k":"G","u":"6","t":"1"},{"h":8,"r":-1.16,"q":-2.09,"k":"G","u":"7","t":"1"},{"h":9,"r":-1.16,"q":-2.09,"k":"G","u":"8","t":"1"},{"h":10,"r":-1.16,"q":-2.09,"k":"G","u":"9","t":"1"},{"h":11,"r":-1.16,"q":-2.09,"k":"G","u":"0","t":"2"},{"h":12,"r":-1.16,"q":-2.09,"k":"G","u":"1","t":"2"},{"h":13,"r":-1.16,"q":-2.09,"k":"G","u":"2","t":"2"},{"h":14,"r":-1.16,"q":-2.09,"k":"G","u":"3","t":"2"},
{"h":15,"r":-1.16,"k":"Y","u":"0"},{"h":16,"r":-1.16,"k":"Y","u":"1"},{"h":17,"r":-1.16,"k":"Y","u":"2"},{"h":18,"r":-1.16,"k":"Y","u":"3"},{"h":19,"r":-1.16,"k":"Y","u":"4"},{"h":20,"r":-1.16,"k":"Y","u":"5"},{"h":21,"r":-1.16,"k":"Y","u":"6"},{"h":22,"r":-1.16,"k":"Y","u":"7"},{"h":23,"r":-1.16,"k":"Y","u":"8"},{"h":24,"r":-1.16,"k":"Y","u":"9"},{"h":25,"r":-1.16,"q":-2.09,"k":"Y","u":"0","t":"1"},{"h":26,"r":-1.16,"q":-2.09,"k":"Y","u":"1","t":"1"},{"h":27,"r":-1.16,"q":-2.09,"k":"Y","u":"2","t":"1"},{"h":28,"r":-1.16,"q":-2.09,"k":"Y","u":"3","t":"1"},{"h":29,"r":-1.16,"q":-2.09,"k":"Y","u":"4","t":"1"},{"h":30,"r":-1.16,"q":-2.09,"k":"Y","u":"5","t":"1"},{"h":31,"r":-1.16,"q":-2.09,"k":"Y","u":"6","t":"1"},{"h":32,"r":-1.16,"q":-2.09,"k":"Y","u":"7","t":"1"},{"h":33,"r":-1.16,"q":-2.09,"k":"Y","u":"8","t":"1"},{"h":34,"r":-1.16,"q":-2.09,"k":"Y","u":"9","t":"1"},{"h":35,"r":-1.16,"q":-2.09,"k":"Y","u":"0","t":"2"},{"h":36,"r":-1.16,"q":-2.09,"k":"Y","u":"1","t":"2"},{"h":37,"r":-1.16,"q":-2.09,"k":"Y","u":"2","t":"2"},{"h":38,"r":-1.16,"q":-2.09,"k":"Y","u":"3","t":"2"},
{"h":39,"r":-1.16,"k":"S","u":"0"},{"h":40,"r":-1.16,"k":"S","u":"1"},{"h":41,"r":-1.16,"k":"S","u":"2"},{"h":42,"r":-1.16,"k":"S","u":"3"},{"h":43,"r":-1.16,"k":"S","u":"4"},{"h":44,"r":-1.16,"k":"S","u":"5"},{"h":45,"r":-1.16,"k":"S","u":"6"},{"h":46,"r":-1.16,"k":"S","u":"7"},{"h":47,"r":-1.16,"k":"S","u":"8"},{"h":48,"r":-1.16,"k":"S","u":"9"},{"h":49,"r":-1.16,"q":-2.09,"k":"S","u":"0","t":"1"},{"h":50,"r":-1.16,"q":-2.09,"k":"S","u":"1","t":"1"},{"h":51,"r":-1.16,"q":-2.09,"k":"S","u":"2","t":"1"},{"h":52,"r":-1.16,"q":-2.09,"k":"S","u":"3","t":"1"},{"h":53,"r":-1.16,"q":-2.09,"k":"S","u":"4","t":"1"},{"h":54,"r":-1.16,"q":-2.09,"k":"S","u":"5","t":"1"},{"h":55,"r":-1.16,"q":-2.09,"k":"S","u":"6","t":"1"},{"h":56,"r":-1.16,"q":-2.09,"k":"S","u":"7","t":"1"},{"h":57,"r":-1.16,"q":-2.09,"k":"S","u":"8","t":"1"},{"h":58,"r":-1.16,"q":-2.09,"k":"S","u":"9","t":"1"},{"h":59,"r":-1.16,"q":-2.09,"k":"S","u":"0","t":"2"},{"h":60,"r":-1.16,"q":-2.09,"k":"S","u":"1","t":"2"},{"h":61,"r":-1.16,"q":-2.09,"k":"S","u":"2","t":"2"},{"h":62,"r":-1.16,"q":-2.09,"k":"S","u":"3","t":"2"},
{"h":63,"r":-1.16,"k":"M","u":"0"},{"h":64,"r":-1.16,"k":"M","u":"1"},{"h":65,"r":-1.16,"k":"M","u":"2"},{"h":66,"r":-1.16,"k":"M","u":"3"},{"h":67,"r":-1.16,"k":"M","u":"4"},{"h":68,"r":-1.16,"k":"M","u":"5"},{"h":69,"r":-1.16,"k":"M","u":"6"},{"h":70,"r":-1.16,"k":"M","u":"7"},{"h":71,"r":-1.16,"k":"M","u":"8"},{"h":72,"r":-1.16,"k":"M","u":"9"},{"h":73,"r":-1.16,"q":-2.09,"k":"M","u":"0","t":"1"},{"h":74,"r":-1.16,"q":-2.09,"k":"M","u":"1","t":"1"},{"h":75,"r":-1.16,"q":-2.09,"k":"M","u":"2","t":"1"},{"h":76,"r":-1.16,"q":-2.09,"k":"M","u":"3","t":"1"},{"h":77,"r":-1.16,"q":-2.09,"k":"M","u":"4","t":"1"},{"h":78,"r":-1.16,"q":-2.09,"k":"M","u":"5","t":"1"},{"h":79,"r":-1.16,"q":-2.09,"k":"M","u":"6","t":"1"},{"h":80,"r":-1.16,"q":-2.09,"k":"M","u":"7","t":"1"},{"h":81,"r":-1.16,"q":-2.09,"k":"M","u":"8","t":"1"},
{"h":0,"r":15.09,"q":14.16,"k":"M","u":"1","t":"2"},
{"h":1,"r":15.09,"k":"P","u":"0"},{"h":2,"r":15.09,"k":"P","u":"3"},{"h":3,"r":15.09,"k":"P","u":"6"},{"h":4,"r":15.09,"k":"P","u":"9"},{"h":5,"r":15.09,"q":14.16,"k":"P","u":"2","t":"1"},{"h":6,"r":15.09,"q":14.16,"k":"P","u":"5","t":"1"},{"h":7,"r":15.09,"q":14.16,"k":"P","u":"8","t":"1"},{"h":8,"r":15.09,"q":14.16,"k":"P","u":"1","t":"2"},
{"h":9,"r":15.09,"k":"G","u":"0"},{"h":10,"r":15.09,"k":"G","u":"3"},{"h":11,"r":15.09,"k":"G","u":"6"},{"h":12,"r":15.09,"k":"G","u":"9"},{"h":13,"r":15.09,"q":14.16,"k":"G","u":"2","t":"1"},{"h":14,"r":15.09,"q":14.16,"k":"G","u":"5","t":"1"},{"h":15,"r":15.09,"q":14.16,"k":"G","u":"8","t":"1"},{"h":16,"r":15.09,"q":14.16,"k":"G","u":"1","t":"2"},
{"h":17,"r":15.09,"k":"Y","u":"0"},{"h":18,"r":15.09,"k":"Y","u":"3"},{"h":19,"r":15.09,"k":"Y","u":"6"},{"h":20,"r":15.09,"k":"Y","u":"9"},{"h":21,"r":15.09,"q":14.16,"k":"Y","u":"2","t":"1"},{"h":22,"r":15.09,"q":14.16,"k":"Y","u":"5","t":"1"},{"h":23,"r":15.09,"q":14.16,"k":"Y","u":"8","t":"1"},{"h":24,"r":15.09,"q":14.16,"k":"Y","u":"1","t":"2"},
{"h":25,"r":15.09,"k":"S","u":"0"},{"h":26,"r":15.09,"k":"S","u":"3"},{"h":27,"r":15.09,"k":"S","u":"6"},{"h":28,"r":15.09,"k":"S","u":"9"},{"h":29,"r":15.09,"q":14.16,"k":"S","u":"2","t":"1"},{"h":30,"r":15.09,"q":14.16,"k":"S","u":"5","t":"1"},{"h":31,"r":15.09,"q":14.16,"k":"S","u":"8","t":"1"},{"h":32,"r":15.09,"q":14.16,"k":"S","u":"1","t":"2"},
{"h":33,"r":15.09,"k":"M","u":"0"},{"h":34,"r":15.09,"k":"M","u":"3"},{"h":35,"r":15.09,"k":"M","u":"6"},{"h":36,"r":15.09,"k":"M","u":"9"},{"h":37,"r":15.09,"q":14.16,"k":"M","u":"2","t":"1"},{"h":38,"r":15.09,"q":14.16,"k":"M","u":"5","t":"1"},{"h":39,"r":15.09,"q":14.16,"k":"M","u":"8","t":"1"},{"h":40,"r":15.09,"q":14.16,"k":"M","u":"1","t":"2"},
{"h":41,"r":15.09,"k":"P","u":"0"},{"h":42,"r":15.09,"k":"P","u":"3"},{"h":43,"r":15.09,"k":"P","u":"6"},{"h":44,"r":15.09,"k":"P","u":"9"},{"h":45,"r":15.09,"q":14.16,"k":"P","u":"2","t":"1"},{"h":46,"r":15.09,"q":14.16,"k":"P","u":"5","t":"1"},{"h":47,"r":15.09,"q":14.16,"k":"P","u":"8","t":"1"}
]
},
"encoding":{
"x":{"field":"h","type":"quantitative","axis":null,"scale":{"domain":[-10,81.7142857],"nice":false,"zero":false}},
"y":{"field":"r","type":"quantitative","axis":null,"scale":{"domain":[-5.1875,21.3125],"nice":false,"zero":false,"reverse":true}},
"color":{"field":"k","type":"nominal","legend":null,"scale":{"domain":["0","1","2","3","4","5","6","7","8","9","W","t","m","c","l","y","o","O","R","D","A","B","C","E","p","q","s","u","v","w","x","a","b","d","e","f","g","h","i","G","Y","S","M","P","L","K","X","J","N","z"],"range":["#003f7f","#13559a","#2d6dae","#4e8ed4","#63a3e4","#75b5f5","#95d5d5","#afefef","#c6c6c6","#e9e9e9","#ffffff","#7fbfbf","#55ffaa","#00ffee","#99ff66","#eeff11","#ffc400","#ff3c00","#e00000","#b30000","#ff9900","#ff5c00","#ff2200","#ffdd00","#fff9f2","#fff0dd","#ffe4c2","#ffd59e","#ffbb55","#ff9f1f","#00bbff","#0060e6","#0044cc","#0000aa","#000088","#00006a","#00005a","#0088ff","#55bb88","#66ff66","#ffff00","#ff7070","#ff00ff","#7070ff","#cccc22","#00cccc","#ff0000","#0055ee","#556b00","#000000"]}}
},
"layer":[
{"data":{"name":"boxes"},"mark":{"type":"rect"},"encoding":{"x2":{"field":"h2"},"y2":{"field":"r2"}}},
{"data":{"name":"cells"},"mark":{"type":"rect","width":12,"height":12}},
{"data":{"name":"stripes"},"mark":{"type":"rect","width":3.1,"height":12}},
{"data":{"name":"links"},"mark":{"type":"rect","width":2.4,"height":8}},
{"data":{"name":"now"},"mark":{"type":"rule","strokeWidth":2},"encoding":{"y2":{"field":"r2"}}},
{"data":{"name":"leaf"},"mark":{"type":"point","filled":true,"opacity":1,"size":150,"shape":"M0,-1 L0.2,-0.55 L0.45,-0.7 L0.35,-0.15 L0.75,-0.35 L0.6,0 L0.85,0.15 L0.45,0.4 L0.5,0.6 L0.05,0.5 L0.05,0.95 L-0.05,0.95 L-0.05,0.5 L-0.5,0.6 L-0.45,0.4 L-0.85,0.15 L-0.6,0 L-0.75,-0.35 L-0.35,-0.15 L-0.45,-0.7 L-0.2,-0.55 Z"}},
{"data":{"name":"title"},"mark":{"type":"text","font":"Liberation Mono","fontWeight":"bold","fontSize":20,"align":"left","baseline":"middle"},"encoding":{"text":{"field":"t","type":"nominal"}}},
{"data":{"name":"labels"},"mark":{"type":"text","font":"Liberation Mono","fontSize":15,"align":"left","baseline":"middle"},"encoding":{"text":{"field":"t","type":"nominal"}}},
{"data":{"name":"small"},"mark":{"type":"text","font":"Liberation Mono","fontSize":8,"fontWeight":"bold","align":"left","baseline":"middle"},"encoding":{"text":{"field":"t","type":"nominal"}}},
{"data":{"name":"side"},"mark":{"type":"text","font":"Liberation Mono","fontSize":10,"angle":270,"align":"center","baseline":"middle"},"encoding":{"text":{"field":"t","type":"nominal"}}},
{"data":{"name":"hours"},"mark":{"type":"text","font":"Liberation Mono","fontSize":15,"align":"center","baseline":"middle"},"encoding":{"text":{"field":"u","type":"nominal"}}},
{"data":{"name":"hours"},"transform":[{"filter":"datum.t"}],"mark":{"type":"text","font":"Liberation Mono","fontSize":15,"align":"center","baseline":"middle"},"encoding":{"y":{"field":"q","type":"quantitative"},"text":{"field":"t","type":"nominal"}}}
]}
